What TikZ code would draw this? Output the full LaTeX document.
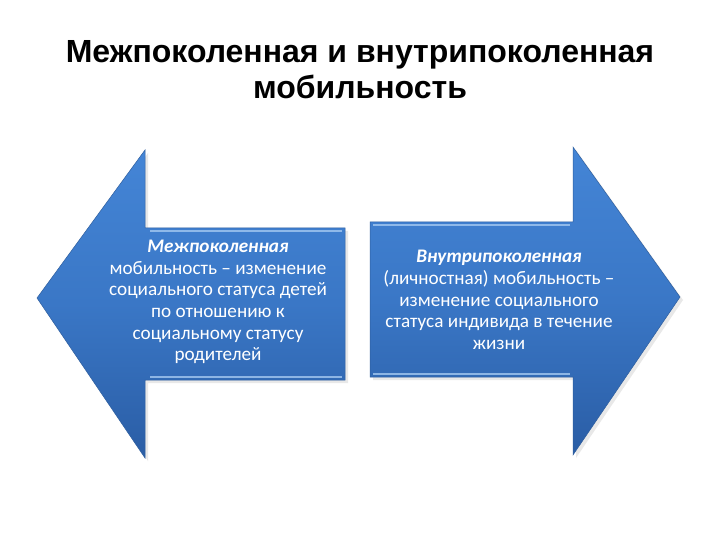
\documentclass[tikz,border=0pt]{standalone}
\usepackage{fontspec}
\setmainfont{Carlito}
\newfontfamily\titlefont{Liberation Sans}
\usetikzlibrary{positioning}

\definecolor{arrowtop}{HTML}{4485D6}
\definecolor{arrowmid}{HTML}{3A77C6}
\definecolor{arrowbot}{HTML}{2A5DA5}
\definecolor{arrowedge}{HTML}{2E5E9E}
\definecolor{bevel}{HTML}{A4C8F0}

\begin{document}
\begin{tikzpicture}[x=1pt,y=-1pt,
    bigarrow/.style={draw=arrowedge, line width=0.5pt, top color=arrowtop, bottom color=arrowbot, middle color=arrowmid},
    bevelline/.style={draw=bevel, line width=1.2pt, opacity=0.8},
    bodytext/.style={text=white, align=center, font=\fontsize{19.2}{21.6}\selectfont},
    titletext/.style={align=center, font=\titlefont\bfseries\fontsize{32}{36}\selectfont}]
    % Page
    \useasboundingbox[fill=white] (0,0) rectangle (720,540);

    % Title
    \node[titletext] (title) at (360,70) {Межпоколенная и внутрипоколенная\\мобильность};

    % Left arrow
    \fill[gray!18] (40,301) -- (148,153) -- (148,231) -- (348,231) -- (348,383) -- (148,383) -- (148,461) -- cycle;
    \draw[bigarrow] (37,298) -- (145,150) -- (145,228) -- (345,228) -- (345,380) -- (145,380) -- (145,458) -- cycle;
    \draw[bevelline] (150,231) -- (342,231);
    \draw[bevelline] (150,377) -- (342,377);

    % Right arrow
    \fill[gray!18] (373,225) -- (576,225) -- (576,150) -- (683,300) -- (576,458) -- (576,380) -- (373,380) -- cycle;
    \draw[bigarrow] (370,222) -- (573,222) -- (573,147) -- (680,297) -- (573,455) -- (573,377) -- (370,377) -- cycle;
    \draw[bevelline] (373,225) -- (570,225);
    \draw[bevelline] (373,374) -- (570,374);

    % Texts
    \node[bodytext] (inter) at (218,302) {\textbf{\textit{Межпоколенная}}\\мобильность – изменение\\социального статуса детей\\по отношению к\\социальному статусу\\родителей};
    \node[bodytext] (intra) at (499,300) {\textbf{\textit{Внутрипоколенная}}\\(личностная) мобильность –\\изменение социального\\статуса индивида в течение\\жизни};
\end{tikzpicture}
\end{document}
